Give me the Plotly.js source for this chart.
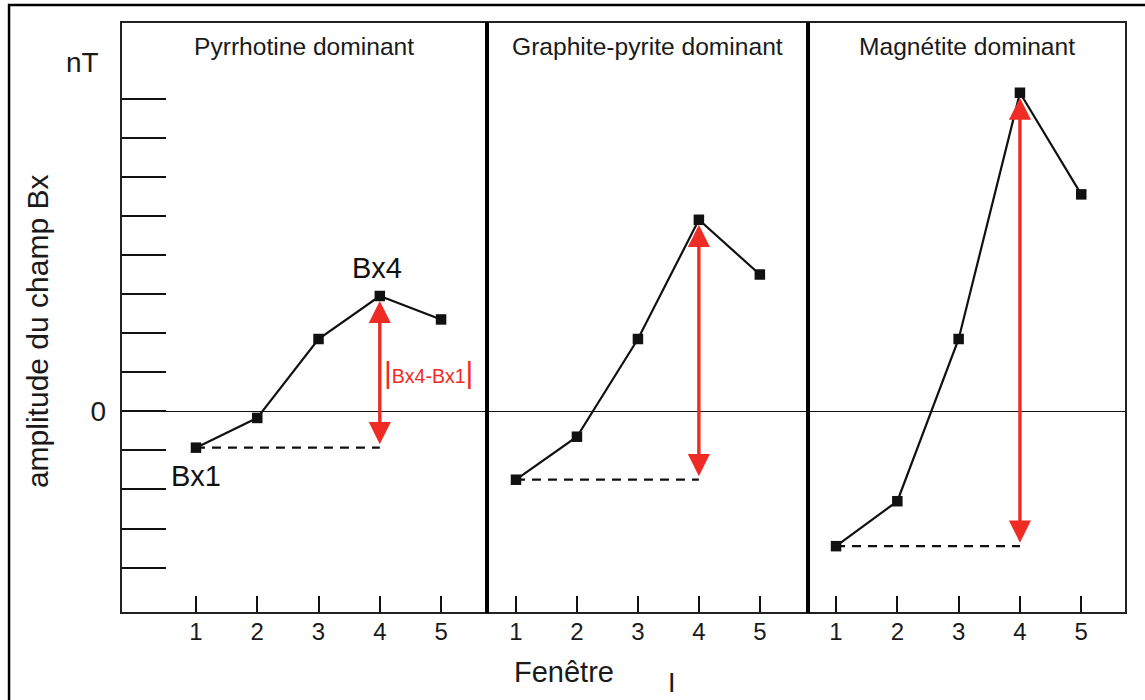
<!DOCTYPE html>
<html>
<head>
<meta charset="utf-8">
<script src="https://cdn.plot.ly/plotly-3.0.1.min.js"></script>
<style>
  html, body { margin: 0; padding: 0; background: #fff; }
  #chart { width: 1145px; height: 700px; }
</style>
</head>
<body>
<div id="chart"></div>
<script>
// Fenêtre index (window number) shared by the three panels
const windows = [1, 2, 3, 4, 5];

// Panel headings
const panelTitles = ["Pyrrhotine dominant", "Graphite-pyrite dominant", "Magnétite dominant"];

// Bx amplitude (nT, arbitrary tick units) per window for each conductor type
const bxPyrrhotine = [-0.93, -0.17, 1.85, 2.95, 2.35];
const bxGraphitePyrite = [-1.75, -0.65, 1.85, 4.90, 3.50];
const bxMagnetite = [-3.45, -2.30, 1.85, 8.15, 5.55];

// Y tick positions (left panel only) and the single labelled tick
const yTickVals = [-4, -3, -2, -1, 0, 1, 2, 3, 4, 5, 6, 7, 8];
const yTickText = yTickVals.map(v => (v === 0 ? "0" : ""));

const series = [bxPyrrhotine, bxGraphitePyrite, bxMagnetite];
const axisIds = ["x", "x2", "x3"];

const INK = "#111111";
const RED = "#ee2b24";
const FONT = "Liberation Sans, Arial, sans-serif";

const traces = [];
series.forEach((vals, i) => {
  // dashed reference level at Bx1, carried to window 4
  traces.push({
    x: [windows[0], windows[3]],
    y: [vals[0], vals[0]],
    xaxis: axisIds[i], yaxis: "y",
    mode: "lines",
    line: { color: INK, width: 2.3, dash: "9px,7px" },
    hoverinfo: "skip", showlegend: false
  });
  // measured profile
  traces.push({
    x: windows,
    y: vals,
    xaxis: axisIds[i], yaxis: "y",
    mode: "lines+markers",
    line: { color: INK, width: 2.2 },
    marker: { symbol: "square", size: 10.5, color: INK },
    showlegend: false
  });
});

// Bx4 - Bx1 double arrows
const arrows = series.map((vals, i) => ({
  xref: axisIds[i], yref: "y",
  axref: axisIds[i], ayref: "y",
  x: windows[3], y: vals[3],
  ax: windows[3], ay: vals[0],
  text: "",
  showarrow: true,
  arrowside: "end+start",
  arrowhead: 2, startarrowhead: 2,
  arrowsize: 1.3, startarrowsize: 1.3,
  arrowwidth: 3.4,
  arrowcolor: RED,
  standoff: 5, startstandoff: 2
}));

const titleAnns = panelTitles.map((t, i) => ({
  xref: axisIds[i] + " domain", yref: "paper",
  x: 0.5, y: 0.959,
  xanchor: "center", yanchor: "middle",
  text: t, showarrow: false,
  font: { family: FONT, size: 24.6, color: "#1a1a1a" }
}));

const textAnns = [
  { xref: "paper", yref: "paper", x: -0.038, y: 0.932, xanchor: "center", yanchor: "middle",
    text: "nT", showarrow: false, font: { family: FONT, size: 28, color: "#1a1a1a" } },
  { xref: "paper", yref: "paper", x: -0.0836, y: 0.477, xanchor: "center", yanchor: "middle",
    text: "amplitude du champ Bx", textangle: -90, showarrow: false,
    font: { family: FONT, size: 30, color: "#1a1a1a" } },
  { xref: "paper", yref: "paper", x: 0.4408, y: -0.0998, xanchor: "center", yanchor: "middle",
    text: "Fenêtre", showarrow: false, font: { family: FONT, size: 29, color: "#1a1a1a" } },
  { xref: "paper", yref: "paper", x: 0.548, y: -0.118, xanchor: "center", yanchor: "middle",
    text: "I", showarrow: false, font: { family: FONT, size: 27, color: "#1a1a1a" } },
  { xref: "x", yref: "y", x: windows[3], y: bxPyrrhotine[3], yshift: 28, xshift: -3,
    xanchor: "center", yanchor: "middle",
    text: "Bx4", showarrow: false, font: { family: FONT, size: 29, color: "#111" } },
  { xref: "x", yref: "y", x: windows[0], y: bxPyrrhotine[0], yshift: -28,
    xanchor: "center", yanchor: "middle",
    text: "Bx1", showarrow: false, font: { family: FONT, size: 29, color: "#111" } },
  { xref: "x", yref: "y", x: windows[3], y: 1, xshift: 49,
    xanchor: "center", yanchor: "middle",
    text: '<span style="font-size:30px">|</span>Bx4-Bx1<span style="font-size:30px">|</span>',
    showarrow: false, font: { family: FONT, size: 19.5, color: RED } }
];

const xCommon = {
  tickvals: windows,
  ticks: "inside", ticklen: 17, tickwidth: 2, tickcolor: INK,
  showgrid: false, zeroline: false, showline: false,
  tickfont: { family: FONT, size: 24, color: "#1a1a1a" },
  ticklabelstandoff: 2,
  anchor: "y", fixedrange: true
};

const split1 = 0.3642, split2 = 0.6836;

const layout = {
  width: 1145, height: 700,
  margin: { l: 121, r: 19, t: 22, b: 87 },
  paper_bgcolor: "#ffffff", plot_bgcolor: "#ffffff",
  showlegend: false,
  xaxis: Object.assign({}, xCommon, { domain: [0, split1], range: [-0.224, 5.75] }),
  xaxis2: Object.assign({}, xCommon, { domain: [split1, split2], range: [0.525, 5.79] }),
  xaxis3: Object.assign({}, xCommon, { domain: [split2, 1], range: [0.543, 5.73] }),
  yaxis: {
    range: [-5.16, 9.96],
    tickvals: yTickVals, ticktext: yTickText,
    ticks: "inside", ticklen: 45, tickwidth: 2, tickcolor: INK,
    showgrid: false, showline: false,
    zeroline: true, zerolinecolor: INK, zerolinewidth: 1.6,
    tickfont: { family: FONT, size: 28, color: "#1a1a1a" },
    ticklabelstandoff: 14,
    fixedrange: true
  },
  shapes: [
    // outer figure frame
    { type: "rect", xref: "paper", yref: "paper", x0: -0.1114, x1: 1.05, y0: -0.2, y1: 1.0288,
      line: { color: "#000", width: 2.5 }, fillcolor: "rgba(0,0,0,0)", layer: "above" },
    // plotting frame
    { type: "rect", xref: "paper", yref: "paper", x0: 0, x1: 1, y0: 0, y1: 1,
      line: { color: "#222", width: 2 }, fillcolor: "rgba(0,0,0,0)", layer: "above" },
    // panel separators
    { type: "line", xref: "paper", yref: "paper", x0: split1, x1: split1, y0: 0, y1: 1,
      line: { color: "#000", width: 4 }, layer: "above" },
    { type: "line", xref: "paper", yref: "paper", x0: split2, x1: split2, y0: 0, y1: 1,
      line: { color: "#000", width: 4 }, layer: "above" }
  ],
  annotations: arrows.concat(titleAnns, textAnns)
};

Plotly.newPlot("chart", traces, layout, { staticPlot: true, displayModeBar: false });
</script>
</body>
</html>
